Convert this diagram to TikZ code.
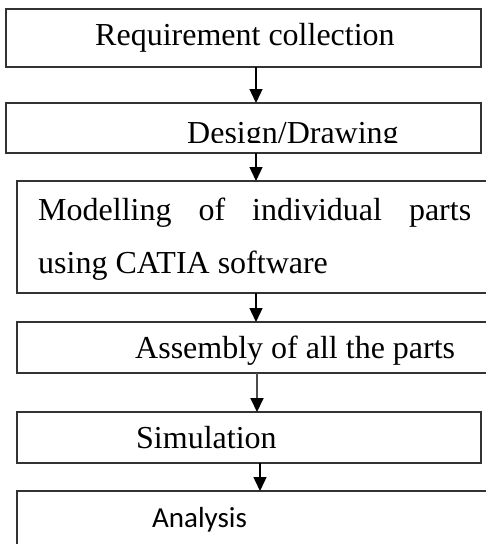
\documentclass[tikz,border=0pt]{standalone}
\usepackage{fontspec}
\setmainfont{Liberation Serif}
\newfontfamily\sansbody{Carlito}
\usetikzlibrary{arrows.meta}

\begin{document}
\begin{tikzpicture}[x=1pt,y=-1pt,
    stage/.style={draw=black!80,line width=1.4pt,inner sep=0pt,outer sep=0pt},
    lbl/.style={anchor=base west,inner sep=0pt,font=\fontsize{32}{53}\selectfont},
    flow/.style={line width=1.4pt,-{Triangle[length=14pt,width=13pt,color=black]}}]
    \useasboundingbox (0,0) rectangle (486,544);
    \coordinate (mid) at (256,0);
    \coordinate (midb) at (257,0);
    \coordinate (midc) at (260,0);
    \node[stage,minimum width=475pt,minimum height=58pt] (req) at (243.5,38) {};
    \node[stage,minimum width=475pt,minimum height=50pt] (design) at (243.5,128) {};
    \node[stage,minimum width=473pt,minimum height=112pt] (model) at (253.5,237) {};
    \node[stage,minimum width=473pt,minimum height=51pt] (assembly) at (253.5,347.5) {};
    \node[stage,minimum width=464pt,minimum height=51pt] (sim) at (249,437.5) {};
    \node[stage,minimum width=473pt,minimum height=59pt] (analysis) at (253.5,520.5) {};
    \node[lbl] (reqtext) at (95,45) {Requirement collection};
    \begin{scope}
        \clip (6,104) rectangle (481,142.5);
        \node[lbl] (designtext) at (187,143) {Design/Drawing};
    \end{scope}
    \node[lbl,align=left] (modeltext) at (38,273)
        {\makebox[433pt][s]{Modelling of individual parts}\\using CATIA software};
    \node[lbl] (assemblytext) at (135,358) {Assembly of all the parts};
    \node[lbl] (simtext) at (136,448) {Simulation};
    \node[lbl,font=\sansbody\fontsize{29}{35}\selectfont] (analysistext) at (152,527) {Analysis};
    \draw[flow] (req.south -| mid) -- (design.north -| mid);
    \draw[flow] (design.south -| mid) -- (model.north -| mid);
    \draw[flow] (model.south -| mid) -- (assembly.north -| mid);
    \draw[flow,draw=black!70,line width=1.8pt] (assembly.south -| midb) -- (sim.north -| midb);
    \draw[flow] (sim.south -| midc) -- (analysis.north -| midc);
\end{tikzpicture}
\end{document}
